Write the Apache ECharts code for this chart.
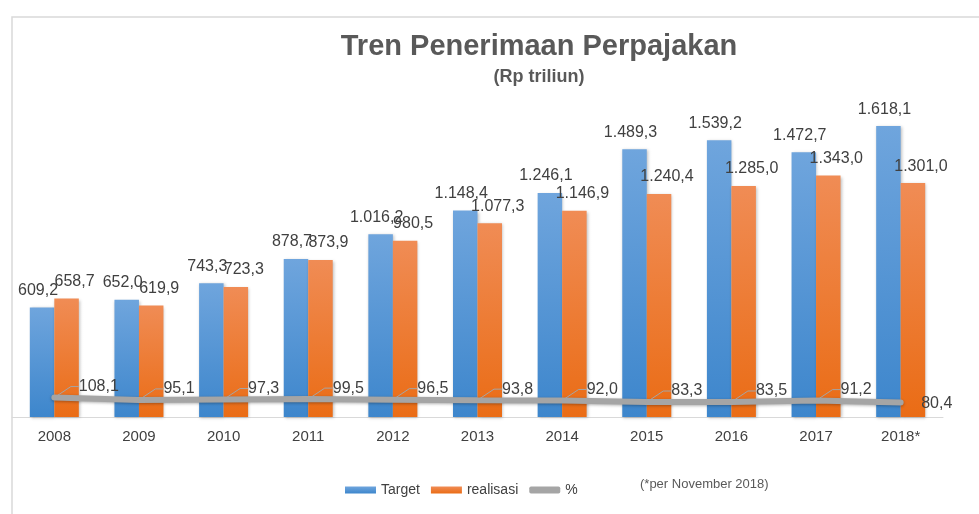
<!DOCTYPE html>
<html>
<head>
<meta charset="utf-8">
<script src="https://cdn.jsdelivr.net/npm/echarts@6/dist/echarts.min.js"></script>
<style>
  html, body { margin: 0; padding: 0; background: #fff; }
  #chart { width: 979px; height: 514px; }
</style>
</head>
<body>
<div id="chart"></div>
<script>
// data
var years = ["2008", "2009", "2010", "2011", "2012", "2013", "2014", "2015", "2016", "2017", "2018*"];
var target = [609.2, 652.0, 743.3, 878.7, 1016.2, 1148.4, 1246.1, 1489.3, 1539.2, 1472.7, 1618.1];
var realisasi = [658.7, 619.9, 723.3, 873.9, 980.5, 1077.3, 1146.9, 1240.4, 1285.0, 1343.0, 1301.0];
var persen = [108.1, 95.1, 97.3, 99.5, 96.5, 93.8, 92.0, 83.3, 83.5, 91.2, 80.4];

var font = "'Liberation Sans', Arial, sans-serif";

// 1.618,1 style numbers
function fmt(v) {
  var s = v.toFixed(1).split(".");
  var i = s[0].replace(/\B(?=(\d{3})+(?!\d))/g, ".");
  return i + "," + s[1];
}

var last = persen.length - 1;
// the last % label has no leader line
var persenData = persen.map(function (v, i) {
  return i === last ? { value: v, labelLine: { show: false } } : v;
});

var chart = echarts.init(document.getElementById("chart"));

var option = {
  backgroundColor: "#fff",
  animation: false,
  title: [
    {
      text: "Tren Penerimaan Perpajakan",
      left: 534,
      top: 27,
      textAlign: "center",
      textStyle: { fontFamily: font, fontSize: 29, fontWeight: "bold", color: "#595959" }
    },
    {
      text: "(Rp triliun)",
      left: 534,
      top: 63,
      textAlign: "center",
      textStyle: { fontFamily: font, fontSize: 18, fontWeight: "bold", color: "#595959" }
    }
  ],
  legend: {
    left: 340,
    top: 478,
    itemWidth: 31,
    itemHeight: 7,
    itemGap: 11,
    textStyle: { fontFamily: font, fontSize: 14, color: "#404040" },
    data: [
      { name: "Target", icon: "rect" },
      { name: "realisasi", icon: "rect" },
      { name: "%", icon: "roundRect" }
    ]
  },
  grid: { left: 12, right: 36, top: 93.4, bottom: 97 },
  xAxis: {
    type: "category",
    data: years,
    axisLine: { lineStyle: { color: "#d9d9d9", width: 1 } },
    axisTick: { show: false },
    axisLabel: { fontFamily: font, fontSize: 15, color: "#404040", margin: 12 }
  },
  yAxis: {
    type: "value",
    min: 0,
    max: 1800,
    show: false,
    splitLine: { show: false }
  },
  graphic: [
    {
      type: "rect",
      shape: { x: 12, y: 17, width: 970, height: 510 },
      style: { fill: "none", stroke: "#d9d9d9", lineWidth: 1.5 },
      silent: true,
      z: -1
    },
    {
      type: "text",
      left: 640,
      top: 478,
      style: { text: "(*per November 2018)", fontFamily: font, fontSize: 13, fill: "#595959" }
    }
  ],
  series: [
    {
      name: "Target",
      type: "bar",
      data: target,
      barWidth: 24.5,
      barGap: "0%",
      itemStyle: {
        color: new echarts.graphic.LinearGradient(0, 0, 0, 1, [
          { offset: 0, color: "#6fa5dd" },
          { offset: 1, color: "#3d86cc" }
        ]),
        shadowBlur: 3,
        shadowOffsetX: 1,
        shadowOffsetY: 1,
        shadowColor: "rgba(0,0,0,0.25)"
      },
      label: {
        show: true,
        position: "top",
        distance: 9,
        offset: [-4, 0],
        formatter: function (p) { return fmt(p.value); },
        fontFamily: font,
        fontSize: 16,
        color: "#404040"
      }
    },
    {
      name: "realisasi",
      type: "bar",
      data: realisasi,
      barWidth: 24.5,
      barGap: "0%",
      itemStyle: {
        color: new echarts.graphic.LinearGradient(0, 0, 0, 1, [
          { offset: 0, color: "#f08c55" },
          { offset: 1, color: "#ea6c15" }
        ]),
        shadowBlur: 3,
        shadowOffsetX: 1,
        shadowOffsetY: 1,
        shadowColor: "rgba(0,0,0,0.25)"
      },
      label: {
        show: true,
        position: "top",
        distance: 9,
        offset: [8, 0],
        formatter: function (p) { return fmt(p.value); },
        fontFamily: font,
        fontSize: 16,
        color: "#404040"
      }
    },
    {
      name: "%",
      type: "line",
      data: persenData,
      symbol: "circle",
      symbolSize: 1,
      showSymbol: true,
      z: 5,
      lineStyle: {
        color: "#a5a5a5",
        width: 6,
        cap: "round",
        shadowBlur: 3,
        shadowOffsetY: 1,
        shadowColor: "rgba(0,0,0,0.3)"
      },
      itemStyle: { color: "#a5a5a5" },
      label: {
        show: true,
        position: "right",
        distance: 4,
        formatter: function (p) { return fmt(p.value); },
        fontFamily: font,
        fontSize: 16,
        color: "#404040"
      },
      labelLine: {
        show: true,
        length2: 8,
        lineStyle: { color: "#a5a5a5", width: 1 }
      },
      labelLayout: function (p) {
        // last point sits flat to the right, others lifted with a leader line
        if (p.dataIndex === last) {
          return { dx: 16, dy: 1 };
        }
        return { dx: 20, dy: -11 };
      }
    }
  ]
};

chart.setOption(option);
</script>
</body>
</html>
